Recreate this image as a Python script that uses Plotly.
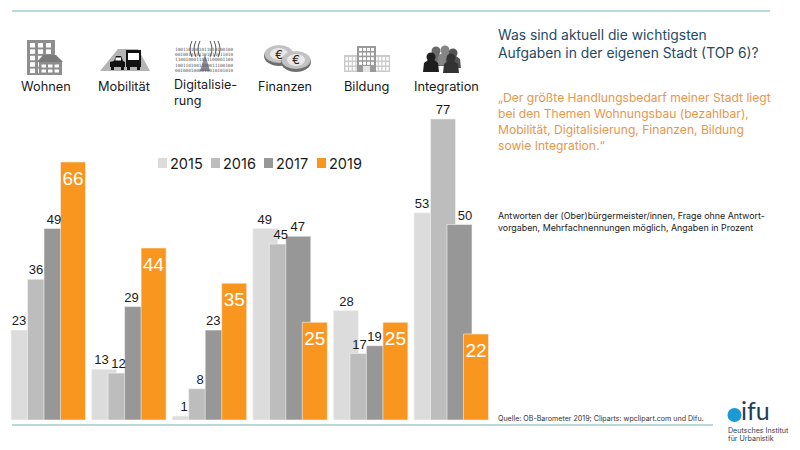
import plotly.graph_objects as go

W, H = 800, 450

categories = ['Wohnen', 'Mobilität', 'Digitalisierung', 'Finanzen', 'Bildung', 'Integration']
years = ['2015', '2016', '2017', '2019']
v2015 = [23, 13, 1, 49, 28, 53]
v2016 = [36, 12, 8, 45, 17, 77]
v2017 = [49, 29, 23, 47, 19, 50]
v2019 = [66, 44, 35, 25, 25, 22]

title_lines = ['Was sind aktuell die wichtigsten', 'Aufgaben in der eigenen Stadt (TOP 6)?']
quote_lines = ['„Der größte Handlungsbedarf meiner Stadt liegt',
               'bei den Themen Wohnungsbau (bezahlbar),',
               'Mobilität, Digitalisierung, Finanzen, Bildung',
               'sowie Integration.“']
note_lines = ['Antworten der (Ober)bürgermeister/innen, Frage ohne Antwort-',
              'vorgaben, Mehrfachnennungen möglich, Angaben in Prozent']
source = 'Quelle: OB-Barometer 2019; Cliparts: wpclipart.com und Difu.'
binary_lines = ['1001101001011010100100', '0010010101101011011010', '1100100011011100001100',
                '1001101001100011100100', '0010001000010010101010']

FONT = 'Inter'
BASE_Y = 420     # pixel row of the bar baseline
PX_PER_UNIT = 3.91
PITCH = 80.6     # pixels from one group to the next
LEFT = 11
BAR_W = 25 / PITCH
colors = ['#dcdcdc', '#bdbdbd', '#979797', '#f99620']
bar_offsets = [0, 16.5, 33, 49.5]
label_offsets = [10, 27, 42, 62]
# per-label x shift in pixels, the source placed them by hand
label_nudge = [[-2, 0, 2, 2, 3, -2],
               [-2, 0, 1, 1, -1, 2],
               [1, -2, -1, 3, -1, 9],
               [0, 0, 0, 0, 0, 0]]
INSIDE_DROP = 2.2  # value units, pushes the white labels down into the bar
OUTSIDE_LIFT = 0.4  # value units, small gap above the grey bars


def px(x):
    return x / W


def py(y):
    return 1 - y / H


def path_pts(points, color, close=True):
    d = 'M' + ' L'.join(f'{px(x):.5f},{py(y):.5f}' for x, y in points)
    return dict(type='path', path=d + (' Z' if close else ''), xref='paper', yref='paper',
                fillcolor=color if close else 'rgba(0,0,0,0)', line=dict(width=0 if close else 1, color=color))


def box(x0, y0, x1, y1, color):
    return dict(type='rect', xref='paper', yref='paper', x0=px(x0), x1=px(x1), y0=py(y0), y1=py(y1),
                fillcolor=color, line=dict(width=0))


def oval(cx, cy, rx, ry, color):
    return dict(type='circle', xref='paper', yref='paper', x0=px(cx - rx), x1=px(cx + rx),
                y0=py(cy + ry), y1=py(cy - ry), fillcolor=color, line=dict(width=0))


def text(x, y, s, size, color='#1a1a1a', anchor='left', family=FONT):
    return dict(x=px(x), y=py(y), xref='paper', yref='paper', text=s, showarrow=False, xanchor=anchor,
                yanchor='middle', align='left', font=dict(family=family, size=size, color=color),
                borderpad=0, borderwidth=0)


fig = go.Figure()

series = [v2015, v2016, v2017, v2019]
for name, vals, color, off in zip(years, series, colors, bar_offsets):
    fig.add_trace(go.Bar(x=list(range(6)), y=vals, name=name, width=BAR_W, offset=off / PITCH,
                         marker=dict(color=color, line=dict(color='#f4f4f4', width=0.6))))

for s, (name, vals) in enumerate(zip(years, series)):
    inside = name == '2019'
    fig.add_trace(go.Scatter(
        x=[i + (label_offsets[s] + label_nudge[s][i]) / PITCH for i in range(6)],
        y=[v - INSIDE_DROP for v in vals] if inside else [v + OUTSIDE_LIFT for v in vals],
        mode='text', text=[str(v) for v in vals],
        textposition='bottom center' if inside else 'top center',
        textfont=dict(family='Liberation Sans', size=19 if inside else 13, color='white' if inside else '#1a1a1a'),
        showlegend=False, cliponaxis=False, hoverinfo='skip',
    ))

shapes = [box(12, 10, 770, 12, '#b9d8da'), box(12, 424, 713, 426, '#b9d8da')]
anns = []

# legend drawn by hand, the native one cannot get this tight
for yr, color, x in zip(years, colors, [158, 211, 264, 317]):
    shapes.append(box(x, 158, x + 9, 168, color))
    anns.append(text(x + 12, 163, yr, 14.5))

# wohnen icon
shapes.append(box(27, 40, 55, 75, '#8e8e8e'))
for r in range(5):
    for c in range(3):
        shapes.append(box(30 + c * 8, 43 + r * 6.4, 35 + c * 8, 47.5 + r * 6.4, 'white'))
shapes.append(path_pts([(37, 62), (43, 55), (56, 55), (63, 62)], '#7a7a7a'))
shapes.append(box(39, 62, 62, 75, '#8e8e8e'))
for r in range(2):
    for c in range(3):
        shapes.append(box(41.5 + c * 6.5, 64.5 + r * 5, 46 + c * 6.5, 67.5 + r * 5, 'white'))

# mobilitaet icon
shapes.append(path_pts([(100, 71), (118, 49), (138, 49), (150, 71)], '#b4b4b4'))
shapes.append(path_pts([(114, 61), (116, 56), (121, 56), (123, 61), (125, 62), (125, 67), (110, 67), (110, 62)], '#111111'))
shapes.append(box(111, 67, 114, 70, '#111111'))
shapes.append(box(121, 67, 124, 70, '#111111'))
shapes.append(box(115.5, 57.5, 121, 60.5, '#ffffff'))
shapes.append(box(126, 50, 141, 67, '#111111'))
shapes.append(box(128, 53, 139, 60, '#ffffff'))
shapes.append(box(127, 67, 130, 70, '#111111'))
shapes.append(box(137, 67, 140, 70, '#111111'))

# digitalisierung icon
for i, line in enumerate(binary_lines):
    anns.append(text(205, 49.5 + i * 5.2, line, 4.4, '#555555', 'center', 'DejaVu Sans Mono'))
shapes.append(path_pts([(205, 54), (200, 71), (210, 71)], '#8a8a9a'))
for r in (5, 9, 13):
    for sign in (-1, 1):
        d = (f'M{px(205 + sign * r):.5f},{py(41):.5f} '
             f'Q{px(205 + sign * (r + 4)):.5f},{py(49):.5f} {px(205 + sign * r):.5f},{py(57):.5f}')
        shapes.append(dict(type='path', path=d, xref='paper', yref='paper', line=dict(color='#444444', width=0.9)))

# finanzen icon
for cx, cy in [(279, 54), (296, 60)]:
    shapes.append(oval(cx, cy + 2, 15, 10, '#6f6f6f'))
    shapes.append(oval(cx, cy, 14.5, 9, '#c2c2c2'))
    shapes.append(oval(cx, cy, 9, 6, '#e8e8e8'))
    anns.append(text(cx, cy, '€', 12, '#222222', 'center'))

# bildung icon
shapes.append(box(344, 55, 390, 72, '#cacaca'))
for r in range(3):
    for c in range(12):
        if not 3 < c < 8:
            shapes.append(box(345.5 + c * 3.7, 57 + r * 5, 348 + c * 3.7, 60.5 + r * 5, 'white'))
shapes.append(box(357, 46, 376, 72, '#9a9a9a'))
for r in range(4):
    for c in range(4):
        shapes.append(box(359 + c * 4, 48 + r * 4.6, 362 + c * 4, 51 + r * 4.6, 'white'))
shapes.append(box(363, 66, 370, 72, '#e4e4e4'))

# integration icon
for cx, cy, shade in [(436, 51, '#6b6b6b'), (445, 50, '#858585'), (453, 53, '#555555'),
                      (431, 57, '#1e1e1e'), (451, 58, '#333333')]:
    shapes.append(oval(cx, cy, 4.5, 4.5, shade))
    shapes.append(path_pts([(cx - 8, cy + 15), (cx - 7, cy + 6), (cx - 3, cy + 3), (cx + 3, cy + 3),
                            (cx + 7, cy + 6), (cx + 8, cy + 15)], shade))

# icon captions
anns += [text(45.5, 86, 'Wohnen', 12.8, anchor='center'),
         text(124, 86, 'Mobilität', 12.8, anchor='center'),
         text(174, 92.5, 'Digitalisie-<br>rung', 12.6),
         text(284.5, 86, 'Finanzen', 12.6, anchor='center'),
         text(366, 86, 'Bildung', 12.8, anchor='center'),
         text(446, 86, 'Integration', 12.8, anchor='center')]

for i, line in enumerate(title_lines):
    anns.append(text(498, 35 + i * 18, line, 13.85, '#1f4a66'))
for i, line in enumerate(quote_lines):
    anns.append(text(498, 98 + i * 15.7, line, 12.1, '#e8964a'))
for i, line in enumerate(note_lines):
    anns.append(text(498, 215 + i * 12, line, 8.9))
anns.append(text(498, 418, source, 7.1, '#333333'))

# difu logo
shapes.append(oval(734.5, 415, 7, 7, '#1b9ad6'))
anns.append(text(741, 410, 'ifu', 25, '#1f3f57', family='Lato'))
anns.append(text(728, 430, 'Deutsches Institut', 7.1, '#1f3f57'))
anns.append(text(728, 438, 'für Urbanistik', 7.1, '#1f3f57'))

fig.update_layout(
    width=W, height=H, margin=dict(l=0, r=0, t=0, b=0), autosize=False,
    paper_bgcolor='white', plot_bgcolor='white', showlegend=False, barmode='overlay',
    shapes=shapes, annotations=anns,
)
fig.update_xaxes(range=[-LEFT / PITCH, (W - LEFT) / PITCH], visible=False, fixedrange=True)
fig.update_yaxes(domain=[1 - BASE_Y / H, 1], range=[0, BASE_Y / PX_PER_UNIT], visible=False, fixedrange=True)

# the page's default body margin would push the chart 8px off
fig.write_html('out.html', post_script="document.body.style.margin='0';", config=dict(displayModeBar=False))
